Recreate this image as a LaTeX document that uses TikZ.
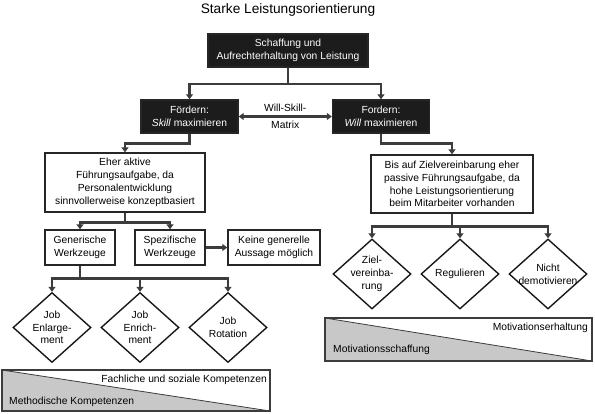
\documentclass[tikz,border=0pt]{standalone}
\usepackage{fontspec}
\setmainfont{Liberation Sans}
\usetikzlibrary{shapes.geometric}
\usetikzlibrary{arrows.meta}

\definecolor{linegray}{HTML}{3C3C3C}
\definecolor{barfill}{HTML}{C8C8C8}
\definecolor{boxblack}{HTML}{1C1C1C}

\tikzset{
  box/.style={draw=black!85, line width=1.4pt, fill=white, align=center, inner sep=2pt},
  darkbox/.style={box, fill=boxblack, text=white},
  decision/.style={draw=black!90, line width=1.4pt, fill=white, diamond, minimum width=78pt, minimum height=70pt, inner sep=0pt},
  dtext/.style={align=center, inner sep=0pt},
  conn/.style={draw=linegray, line width=2.5pt, -{Triangle[width=7pt,length=5pt]}},
  bothconn/.style={conn, {Triangle[width=7pt,length=5pt]}-{Triangle[width=7pt,length=5pt]}},
  bar/.style={draw=linegray, line width=2pt},
  bartext/.style={inner sep=0pt}
}

\begin{document}
\begin{tikzpicture}[x=1pt,y=-1pt,font=\fontsize{10.3}{12.8}\selectfont]
    \useasboundingbox (0,0) rectangle (595,413);

    % Title:
    \node (title) at (288,10) {\fontsize{13.7}{16}\selectfont Starke Leistungsorientierung};

    % Boxes:
    \node[darkbox, minimum width=160pt, minimum height=33pt] (top) at (288,50.5) {Schaffung und\\Aufrechterhaltung von Leistung};
    \node[darkbox, minimum width=97pt, minimum height=33pt] (foerdern) at (189.5,116.5) {Fördern:\\\textit{Skill} maximieren};
    \node[darkbox, minimum width=97pt, minimum height=33pt] (fordern) at (381,116.5) {Fordern:\\\textit{Will} maximieren};
    \node[box, minimum width=160pt, minimum height=59pt] (aktiv) at (125,182.5) {Eher aktive\\Führungsaufgabe, da\\Personalentwicklung\\sinnvollerweise konzeptbasiert};
    \node[box, minimum width=162pt, minimum height=58pt] (passiv) at (452,184) {Bis auf Zielvereinbarung eher\\passive Führungsaufgabe, da\\hohe Leistungsorientierung\\beim Mitarbeiter vorhanden};
    \node[box, minimum width=70pt, minimum height=35pt] (generisch) at (80,247.5) {Generische\\Werkzeuge};
    \node[box, minimum width=70pt, minimum height=35pt] (spezifisch) at (170,247.5) {Spezifische\\Werkzeuge};
    \node[box, minimum width=92pt, minimum height=35pt] (keine) at (274,247.5) {Keine generelle\\Aussage möglich};

    % Diamonds:
    \node[decision, label={[dtext]center:{Job\\Enlarge-\\ment}}] (enlarge) at (52,327.5) {};
    \node[decision, label={[dtext]center:{Job\\Enrich-\\ment}}] (enrich) at (140,327.5) {};
    \node[decision, label={[dtext]center:{Job\\Rotation}}] (rotation) at (228,327.5) {};
    \node[decision, label={[dtext]center:{Ziel-\\vereinba-\\rung}}] (ziel) at (372,274) {};
    \node[decision, label={[dtext]center:{Regulieren}}] (regulieren) at (460,274) {};
    \node[decision, label={[dtext]center:{Nicht\\demotivieren}}] (nicht) at (548,274) {};

    % Connectors:
    \draw[conn] (top.south) -- +(0,16.5) -| (foerdern.north);
    \draw[conn] (top.south) -- +(0,16.5) -| (fordern.north);
    \draw[bothconn] (foerdern.east) -- (fordern.west) node[midway, above] {Will-Skill-} node[midway, below] {Matrix};
    \draw[conn] (foerdern.south) -- +(0,10) -| (aktiv.north);
    \draw[conn] (fordern.south) -- +(0,10) -| (passiv.north);
    \draw[conn] (aktiv.south) -- +(0,10) -| (generisch.north);
    \draw[conn] (aktiv.south) -- +(0,10) -| (spezifisch.north);
    \draw[conn] (spezifisch.east) -- (keine.west);
    \foreach \d in {enlarge,enrich,rotation}
        \draw[conn] (generisch.south) -- +(0,13) -| (\d.north);
    \foreach \d in {ziel,regulieren,nicht}
        \draw[conn] (passiv.south) -- +(0,13) -| (\d.north);

    % Bars:
    \filldraw[fill=barfill, draw=linegray, line width=0.8pt] (2,370) -- (270,411) -- (2,411) -- cycle;
    \draw[bar] (2,370) rectangle (270,411);
    \node[bartext, anchor=east] (fachlich) at (267,380) {Fachliche und soziale Kompetenzen};
    \node[bartext, anchor=west] (methodisch) at (9,402) {Methodische Kompetenzen};

    \filldraw[fill=barfill, draw=linegray, line width=0.8pt] (325,318) -- (592,361) -- (325,361) -- cycle;
    \draw[bar] (325,318) rectangle (592,361);
    \node[bartext, anchor=east] (erhaltung) at (588,328) {Motivationserhaltung};
    \node[bartext, anchor=west] (schaffung) at (333,350) {Motivationsschaffung};
\end{tikzpicture}
\end{document}
